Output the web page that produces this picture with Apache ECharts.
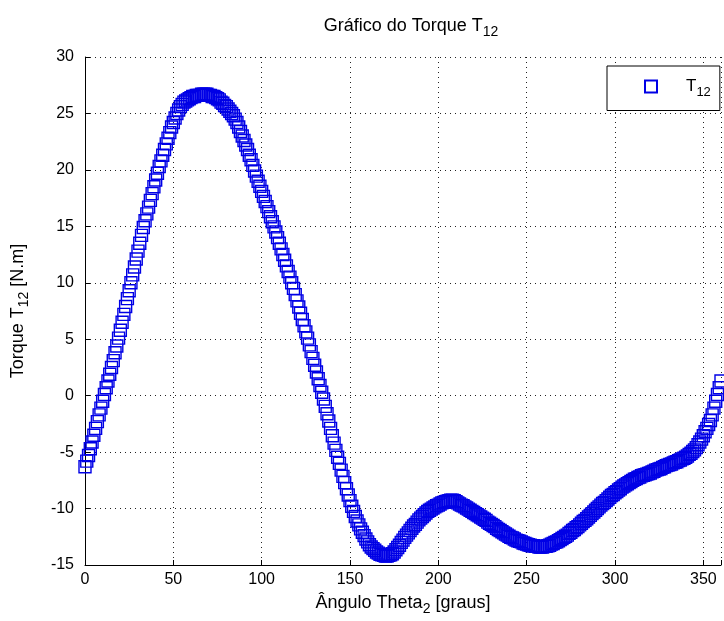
<!DOCTYPE html>
<html><head><meta charset="utf-8">
<script src="https://cdn.jsdelivr.net/npm/echarts@6/dist/echarts.min.js"></script>
<style>html,body{margin:0;padding:0;background:#fff}#c{width:724px;height:621px}</style>
</head><body><div id="c"></div>
<script>
// Torque T12 [N.m], one value per degree of Theta2, 0..360
const torque = [
  -6.3,-5.8,-5.3,-4.7,-4.1,-3.5,-2.9,-2.3,-1.7,-1.1,
  -0.5,0.1,0.7,1.3,1.9,2.5,3.1,3.8,4.4,5.1,
  5.8,6.5,7.2,7.9,8.6,9.3,10.0,10.7,11.4,12.1,
  12.8,13.5,14.2,14.9,15.5,16.1,16.7,17.3,17.9,18.5,
  19.1,19.7,20.3,20.8,21.3,21.8,22.3,22.8,23.3,23.8,
  24.2,24.6,25.0,25.3,25.6,25.8,26.0,26.1,26.2,26.3,
  26.4,26.5,26.5,26.6,26.6,26.6,26.7,26.7,26.7,26.7,
  26.6,26.6,26.5,26.5,26.4,26.3,26.2,26.0,25.9,25.7,
  25.6,25.4,25.2,25.0,24.8,24.5,24.2,23.8,23.4,23.0,
  22.6,22.2,21.8,21.3,20.9,20.4,19.9,19.45,19.0,18.55,
  18.1,17.65,17.2,16.75,16.3,15.85,15.4,14.95,14.5,14.0,
  13.5,13.0,12.5,12.0,11.5,11.0,10.5,10.0,9.5,8.95,
  8.4,7.85,7.3,6.75,6.2,5.65,5.1,4.5,3.9,3.3,
  2.7,2.1,1.5,0.9,0.3,-0.3,-0.95,-1.6,-2.25,-2.9,
  -3.55,-4.2,-4.85,-5.45,-6.0,-6.6,-7.15,-7.7,-8.25,-8.8,
  -9.3,-9.8,-10.25,-10.7,-11.1,-11.45,-11.8,-12.1,-12.4,-12.7,
  -12.95,-13.2,-13.4,-13.55,-13.7,-13.85,-13.95,-14.05,-14.1,-14.15,
  -14.2,-14.2,-14.15,-14.1,-14.0,-13.85,-13.65,-13.45,-13.25,-13.0,
  -12.8,-12.55,-12.35,-12.15,-11.95,-11.75,-11.55,-11.4,-11.2,-11.0,
  -10.85,-10.7,-10.55,-10.4,-10.25,-10.15,-10.05,-9.95,-9.85,-9.75,
  -9.7,-9.6,-9.5,-9.45,-9.4,-9.35,-9.3,-9.25,-9.25,-9.3,
  -9.4,-9.5,-9.6,-9.7,-9.75,-9.85,-9.95,-10.05,-10.15,-10.25,
  -10.35,-10.45,-10.55,-10.65,-10.75,-10.85,-10.95,-11.05,-11.2,-11.3,
  -11.4,-11.5,-11.6,-11.75,-11.85,-11.95,-12.05,-12.15,-12.25,-12.35,
  -12.45,-12.55,-12.6,-12.7,-12.8,-12.85,-12.9,-12.95,-13.05,-13.1,
  -13.15,-13.2,-13.25,-13.3,-13.3,-13.35,-13.35,-13.4,-13.4,-13.4,
  -13.35,-13.35,-13.3,-13.25,-13.15,-13.1,-13.0,-12.95,-12.85,-12.75,
  -12.65,-12.55,-12.45,-12.35,-12.2,-12.1,-11.95,-11.85,-11.7,-11.6,
  -11.45,-11.3,-11.15,-11.05,-10.9,-10.75,-10.6,-10.45,-10.3,-10.15,
  -10.0,-9.85,-9.7,-9.55,-9.45,-9.3,-9.15,-9.0,-8.85,-8.75,
  -8.6,-8.5,-8.35,-8.25,-8.1,-8.0,-7.9,-7.8,-7.7,-7.6,
  -7.5,-7.4,-7.35,-7.25,-7.2,-7.1,-7.05,-7.0,-6.95,-6.9,
  -6.85,-6.75,-6.7,-6.6,-6.55,-6.5,-6.45,-6.35,-6.3,-6.2,
  -6.15,-6.1,-6.05,-5.95,-5.9,-5.85,-5.75,-5.7,-5.6,-5.55,
  -5.45,-5.35,-5.2,-5.1,-4.95,-4.8,-4.6,-4.35,-4.1,-3.85,
  -3.55,-3.2,-2.9,-2.55,-2.2,-1.7,-1.1,-0.5,0.1,0.7,
  1.3
];
const thetaStart = 0;     // graus
const thetaStep = 1;      // graus
const xAxisRange = [0, 360];
const xTickStep = 50;
const yAxisRange = [-15, 30];
const yTickStep = 5;
const seriesName = 'T12';

const FONT = "'Liberation Sans', Arial, sans-serif";
const points = torque.map((v, i) => [thetaStart + i * thetaStep, v]);

const chart = echarts.init(document.getElementById('c'), null, {renderer: 'canvas'});
const subRich = {
  m: {fontFamily: FONT, fontSize: 18, fontWeight: 'normal', color: '#000'},
  s: {fontFamily: FONT, fontSize: 14, fontWeight: 'normal', color: '#000', padding: [11, 0, 0, 0]}
};
chart.setOption({
  animation: false,
  backgroundColor: '#fff',
  title: {
    text: '{m|Gráfico do Torque T}{s|12}',
    left: 406, textAlign: 'center', top: 9,
    textStyle: {fontWeight: 'normal', rich: subRich}
  },
  legend: {
    left: 607, top: 66,
    padding: [12, 9, 12, 37],
    borderColor: '#000', borderWidth: 1, backgroundColor: '#fff',
    itemWidth: 12, itemHeight: 12,
    formatter: () => '{m|T}{s|12}',
    textStyle: {rich: {
      m: {fontFamily: FONT, fontSize: 17, color: '#000', padding: [0, 0, 0, 24]},
      s: {fontFamily: FONT, fontSize: 13, color: '#000', padding: [11, 0, 0, 0]}
    }},
    data: [seriesName]
  },
  grid: {left: 85, top: 57, bottom: 56, right: -7, containLabel: false},
  xAxis: {
    type: 'value', min: xAxisRange[0], max: xAxisRange[1], interval: xTickStep,
    name: '{m|Ângulo Theta}{s|2}{m| [graus]}',
    nameLocation: 'middle', nameGap: 26,
    nameTextStyle: {rich: subRich},
    axisLine: {show: true, onZero: false, lineStyle: {color: '#000', width: 1}},
    axisTick: {show: true, inside: true, length: 5, lineStyle: {color: '#000'}},
    axisLabel: {color: '#000', fontFamily: FONT, fontSize: 16, margin: 7,
      formatter: v => (v === 360 ? '' : String(v))},
    splitLine: {show: true, lineStyle: {color: '#222', width: 1, type: [1, 4]}}
  },
  yAxis: {
    type: 'value', min: yAxisRange[0], max: yAxisRange[1], interval: yTickStep,
    name: '{m|Torque T}{s|12}{m| [N.m]}',
    nameLocation: 'middle', nameGap: 54,
    nameTextStyle: {rich: subRich},
    axisLine: {show: true, onZero: false, lineStyle: {color: '#000', width: 1}},
    axisTick: {show: true, inside: true, length: 5, lineStyle: {color: '#000'}},
    axisLabel: {color: '#000', fontFamily: FONT, fontSize: 16, margin: 11},
    splitLine: {show: true, lineStyle: {color: '#222', width: 1, type: [1, 4]}}
  },
  series: [{
    name: seriesName,
    type: 'scatter',
    symbol: 'rect',
    symbolSize: 12,
    data: points,
    itemStyle: {color: 'rgba(0,0,0,0)', borderColor: '#0000e6', borderWidth: 1.4, opacity: 1},
    emphasis: {disabled: true}
  }]
});
</script>
</body></html>
